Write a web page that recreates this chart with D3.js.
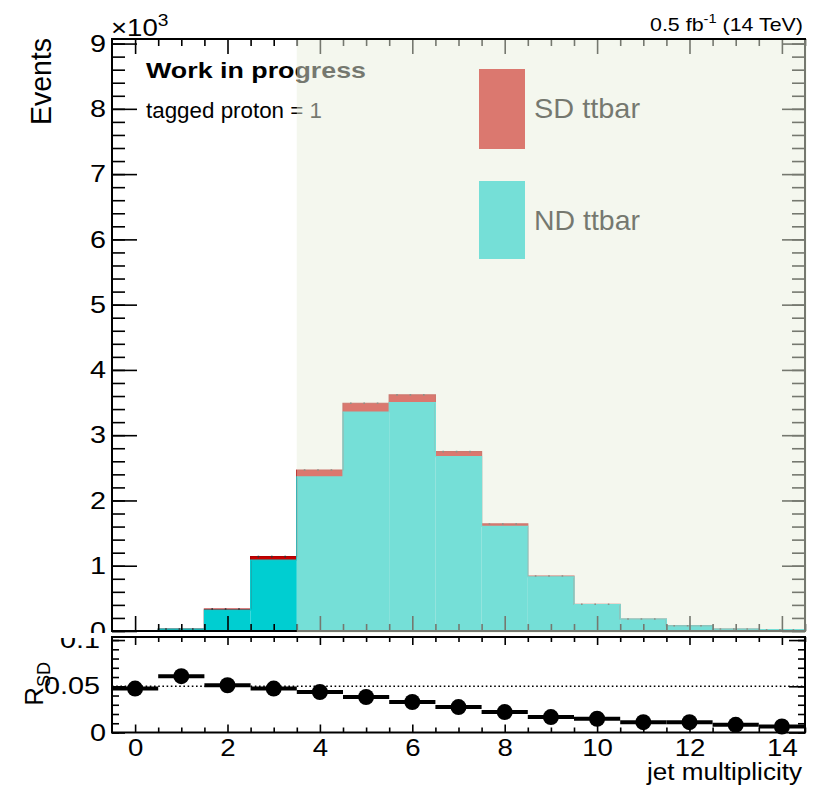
<!DOCTYPE html>
<html>
<head>
<meta charset="utf-8">
<script src="https://cdn.jsdelivr.net/npm/d3@7"></script>
<style>
  html, body { margin: 0; padding: 0; background: #fff; }
  svg text { font-family: "Liberation Sans", Arial, Helvetica, sans-serif; }
</style>
</head>
<body>
<svg id="chart" width="833" height="791"></svg>
<script>
// ---- data -------------------------------------------------------------
const jetBins   = [0, 1, 2, 3, 4, 5, 6, 7, 8, 9, 10, 11, 12, 13, 14];
const ndEvents  = [4, 29, 320, 1085, 2360, 3355, 3498, 2672, 1604, 829, 403, 182, 80, 30, 20];
const sdEvents  = [0.2, 1.9, 17, 54, 107, 134, 119, 76, 36, 14, 6, 2, 1, 0.3, 0.2];
const ratioSD   = [0.0475, 0.0609, 0.0511, 0.0475, 0.0438, 0.0384, 0.033, 0.0275,
                   0.0221, 0.0167, 0.0149, 0.0112, 0.0112, 0.0083, 0.0065];
const mainYTicks  = [0, 1, 2, 3, 4, 5, 6, 7, 8, 9];        // in units of 10^3
const ratioYTicks = [0, 0.05, 0.1];
const xLabelTicks = [0, 2, 4, 6, 8, 10, 12, 14];
const legendItems = ["SD ttbar", "ND ttbar"];

// ---- layout -----------------------------------------------------------
const svg = d3.select("#chart");
const L = 112, R = 805;
const mainTop = 39, mainBot = 631;
const ratTop = 637, ratBot = 732.5;
const lblScale = 1.2;   // tick labels are drawn a little wide

const ndColor = "rgb(0,206,209)";
const sdColor = "rgb(205,0,0)";

const x = d3.scaleLinear().domain([-0.5, 14.5]).range([L, R]);
const yMain = d3.scaleLinear().domain([0, 9070]).range([mainBot, mainTop]);
const yRat = d3.scaleLinear().domain([0, 0.1033]).range([ratBot, ratTop]);

const defs = svg.append("defs");
defs.append("clipPath").attr("id", "ratioClip")
  .append("rect").attr("x", 0).attr("y", 638).attr("width", 833).attr("height", 153);
defs.append("clipPath").attr("id", "mainClip")
  .append("rect").attr("x", 0).attr("y", 0).attr("width", 833).attr("height", 633);

// ---- upper pad: stacked histogram --------------------------------------
const main = svg.append("g");

const bins = main.append("g");
bins.selectAll("rect.nd").data(jetBins).join("rect").attr("class", "nd")
  .attr("x", d => x(d - 0.5)).attr("width", d => x(d + 0.5) - x(d - 0.5))
  .attr("y", (d, i) => yMain(ndEvents[i]))
  .attr("height", (d, i) => yMain(0) - yMain(ndEvents[i]))
  .attr("fill", ndColor);
bins.selectAll("rect.sd").data(jetBins).join("rect").attr("class", "sd")
  .attr("x", d => x(d - 0.5)).attr("width", d => x(d + 0.5) - x(d - 0.5))
  .attr("y", (d, i) => yMain(ndEvents[i] + sdEvents[i]))
  .attr("height", (d, i) => yMain(ndEvents[i]) - yMain(ndEvents[i] + sdEvents[i]))
  .attr("fill", sdColor);

// histogram outlines (step lines)
const stepPath = vals => {
  let p = `M${x(-0.5)},${yMain(0)}`;
  vals.forEach((v, i) => { p += `L${x(i - 0.5)},${yMain(v)}L${x(i + 0.5)},${yMain(v)}`; });
  return p + `L${x(14.5)},${yMain(0)}`;
};
const totals = ndEvents.map((v, i) => v + sdEvents[i]);
bins.append("path").attr("d", stepPath(totals)).attr("fill", "none")
  .attr("stroke", "#b00000").attr("stroke-width", 1.2);
bins.append("path").attr("d", stepPath(ndEvents)).attr("fill", "none")
  .attr("stroke", ndColor).attr("stroke-width", 1.2);
// small error markers along the top of the stack
bins.selectAll("line.err").data(jetBins).join("line").attr("class", "err")
  .attr("x1", d => x(d - 0.5) + 7).attr("x2", d => x(d + 0.5) - 4)
  .attr("y1", (d, i) => yMain(totals[i])).attr("y2", (d, i) => yMain(totals[i]))
  .attr("stroke", "#333").attr("stroke-width", 1.6)
  .attr("stroke-dasharray", "1.6,11.8");

// texts inside the frame
main.append("text").attr("x", 146).attr("y", 78)
  .attr("font-size", 22).attr("font-weight", "bold")
  .attr("textLength", 220).attr("lengthAdjust", "spacingAndGlyphs")
  .text("Work in progress");
main.append("text").attr("x", 146).attr("y", 118)
  .attr("font-size", 22)
  .attr("textLength", 176).attr("lengthAdjust", "spacingAndGlyphs")
  .text("tagged proton = 1");

// legend
const legend = main.append("g");
const legendColors = [sdColor, ndColor];
const legendBoxes = [[69, 149], [181, 259]];
const legendBase = [118, 230];
legendItems.forEach((name, i) => {
  legend.append("rect").attr("x", 479).attr("y", legendBoxes[i][0])
    .attr("width", 46).attr("height", legendBoxes[i][1] - legendBoxes[i][0])
    .attr("fill", legendColors[i]);
  legend.append("text").attr("x", 534).attr("y", legendBase[i])
    .attr("font-size", 28)
    .attr("textLength", 106).attr("lengthAdjust", "spacingAndGlyphs")
    .text(name);
});

// axes of the upper pad (ticks only, all pointing inward)
const tickG = main.append("g");
const styleTicks = g => { g.select(".domain").remove(); g.selectAll("line").attr("stroke", "#000").attr("stroke-width", 1.6); };
const minorMain = d3.range(0, 9070, 200);
const xMajor = d3.range(0, 15, 2);
const xMinor = d3.range(0, 14.6, 0.5).filter(v => v % 2 !== 0);

tickG.append("g").attr("transform", `translate(${L},0)`)
  .call(d3.axisLeft(yMain).tickValues(minorMain).tickSize(-13).tickFormat("")).call(styleTicks);
tickG.append("g").attr("transform", `translate(${L},0)`)
  .call(d3.axisLeft(yMain).tickValues(mainYTicks.map(v => v * 1000)).tickSize(-25).tickFormat("")).call(styleTicks);
tickG.append("g").attr("transform", `translate(${R},0)`)
  .call(d3.axisRight(yMain).tickValues(minorMain).tickSize(-13).tickFormat("")).call(styleTicks);
tickG.append("g").attr("transform", `translate(${R},0)`)
  .call(d3.axisRight(yMain).tickValues(mainYTicks.map(v => v * 1000)).tickSize(-23).tickFormat("")).call(styleTicks);
tickG.append("g").attr("transform", `translate(0,${mainBot})`)
  .call(d3.axisBottom(x).tickValues(xMinor).tickSize(-7).tickFormat("")).call(styleTicks);
tickG.append("g").attr("transform", `translate(0,${mainBot})`)
  .call(d3.axisBottom(x).tickValues(xMajor).tickSize(-15).tickFormat("")).call(styleTicks);
tickG.append("g").attr("transform", `translate(0,${mainTop})`)
  .call(d3.axisTop(x).tickValues(xMinor).tickSize(-7).tickFormat("")).call(styleTicks);
tickG.append("g").attr("transform", `translate(0,${mainTop})`)
  .call(d3.axisTop(x).tickValues(xMajor).tickSize(-15).tickFormat("")).call(styleTicks);

// frame
main.append("rect").attr("x", L).attr("y", mainTop).attr("width", R - L).attr("height", mainBot - mainTop)
  .attr("fill", "none").attr("stroke", "#000").attr("stroke-width", 2);

// translucent band over the region jet multiplicity > 3.5
main.append("rect")
  .attr("x", x(3.5)).attr("y", mainTop + 1)
  .attr("width", x(14.5) - x(3.5) + 1.5).attr("height", mainBot - mainTop + 1)
  .attr("fill", "rgb(234,240,222)").attr("fill-opacity", 0.5);
main.append("line").attr("x1", x(3.5)).attr("x2", R + 1).attr("y1", mainTop).attr("y2", mainTop)
  .attr("stroke", "#000").attr("stroke-width", 2);

// y labels of the upper pad
const yLab = main.append("g").attr("clip-path", "url(#mainClip)")
  .append("g").attr("transform", `translate(${L},0)`)
  .call(d3.axisLeft(yMain).tickValues(mainYTicks.map(v => v * 1000)).tickSize(0).tickPadding(6)
    .tickFormat(d => d3.format("d")(d / 1000)));
yLab.select(".domain").remove();
yLab.selectAll("text").attr("font-size", 24).attr("fill", "#000")
  .attr("font-family", "Liberation Sans, Arial, sans-serif")
  .attr("x", -6 / lblScale).attr("transform", `scale(${lblScale},1)`);

// exponent and axis title
const expo = main.append("text").attr("x", 0).attr("y", 0)
  .attr("transform", `translate(111,36) scale(1.2,1)`).attr("font-size", 23);
expo.append("tspan").text("\u00d710");
expo.append("tspan").attr("font-size", 16).attr("dy", -10).text("3");

main.append("text").attr("transform", "translate(51,38) rotate(-90)")
  .attr("text-anchor", "end").attr("font-size", 29)
  .attr("textLength", 87).attr("lengthAdjust", "spacingAndGlyphs")
  .text("Events");

// luminosity label
const lumi = svg.append("text").attr("x", 803).attr("y", 31).attr("text-anchor", "end")
  .attr("font-size", 19).attr("textLength", 153).attr("lengthAdjust", "spacingAndGlyphs");
lumi.append("tspan").text("0.5 fb");
lumi.append("tspan").attr("font-size", 13).attr("dy", -8).text("-1");
lumi.append("tspan").attr("dy", 8).text(" (14 TeV)");

// ---- lower pad: ratio ---------------------------------------------------
const rat = svg.append("g");
rat.append("rect").attr("x", 0).attr("y", 633).attr("width", 833).attr("height", 158).attr("fill", "#fff");

// reference line
rat.append("line").attr("x1", L).attr("x2", R).attr("y1", yRat(0.05)).attr("y2", yRat(0.05))
  .attr("stroke", "#000").attr("stroke-width", 1.5).attr("stroke-dasharray", "1.6,2.6");

const rTicks = rat.append("g");
const minorRat = d3.range(0, 0.1031, 0.01);
rTicks.append("g").attr("transform", `translate(${L},0)`)
  .call(d3.axisLeft(yRat).tickValues(minorRat).tickSize(-7).tickFormat("")).call(styleTicks);
rTicks.append("g").attr("transform", `translate(${L},0)`)
  .call(d3.axisLeft(yRat).tickValues(ratioYTicks).tickSize(-13).tickFormat("")).call(styleTicks);
rTicks.append("g").attr("transform", `translate(${R},0)`)
  .call(d3.axisRight(yRat).tickValues(minorRat).tickSize(-7).tickFormat("")).call(styleTicks);
rTicks.append("g").attr("transform", `translate(${R},0)`)
  .call(d3.axisRight(yRat).tickValues(ratioYTicks).tickSize(-16).tickFormat("")).call(styleTicks);
rTicks.append("g").attr("transform", `translate(0,${ratBot})`)
  .call(d3.axisBottom(x).tickValues(xMinor).tickSize(-5).tickFormat("")).call(styleTicks);
rTicks.append("g").attr("transform", `translate(0,${ratBot})`)
  .call(d3.axisBottom(x).tickValues(xMajor).tickSize(-8).tickFormat("")).call(styleTicks);
rTicks.append("g").attr("transform", `translate(0,${ratTop})`)
  .call(d3.axisTop(x).tickValues(xMinor).tickSize(-5).tickFormat("")).call(styleTicks);
rTicks.append("g").attr("transform", `translate(0,${ratTop})`)
  .call(d3.axisTop(x).tickValues(xMajor).tickSize(-8).tickFormat("")).call(styleTicks);

// ratio points with bin-width bars
rat.selectAll("line.xerr").data(jetBins).join("line").attr("class", "xerr")
  .attr("x1", d => x(d - 0.5)).attr("x2", d => x(d + 0.5))
  .attr("y1", (d, i) => yRat(ratioSD[i])).attr("y2", (d, i) => yRat(ratioSD[i]))
  .attr("stroke", "#000").attr("stroke-width", 4);
rat.selectAll("circle").data(jetBins).join("circle")
  .attr("cx", d => x(d)).attr("cy", (d, i) => yRat(ratioSD[i])).attr("r", 8)
  .attr("fill", "#000");

rat.append("rect").attr("x", L).attr("y", ratTop).attr("width", R - L).attr("height", ratBot - ratTop)
  .attr("fill", "none").attr("stroke", "#000").attr("stroke-width", 2);

// ratio y labels (the top one is cut by the pad edge)
const rLab = rat.append("g").attr("clip-path", "url(#ratioClip)")
  .append("g").attr("transform", `translate(${L},0)`)
  .call(d3.axisLeft(yRat).tickValues(ratioYTicks).tickSize(0).tickPadding(8)
    .tickFormat(d => d === 0 ? "0" : d3.format("")(d)));
rLab.select(".domain").remove();
rLab.selectAll("text").attr("font-size", 24).attr("fill", "#000")
  .attr("font-family", "Liberation Sans, Arial, sans-serif")
  .attr("x", d => (d === 0 ? -6 : -12) / lblScale).attr("transform", `scale(${lblScale},1)`);

// x labels
const xLab = rat.append("g").attr("transform", `translate(0,${ratBot})`)
  .call(d3.axisBottom(x).tickValues(xLabelTicks).tickSize(0).tickPadding(7).tickFormat(d3.format("d")));
xLab.select(".domain").remove();
xLab.selectAll("text").attr("font-size", 23).attr("fill", "#000")
  .attr("font-family", "Liberation Sans, Arial, sans-serif")
  .attr("transform", `scale(${lblScale},1)`)
  .attr("x", 0);

// axis titles
rat.append("text").attr("x", 802).attr("y", 780).attr("text-anchor", "end")
  .attr("font-size", 23).attr("textLength", 155).attr("lengthAdjust", "spacingAndGlyphs")
  .text("jet multiplicity");

const rTitle = rat.append("text").attr("transform", "translate(43,662) rotate(-90)")
  .attr("text-anchor", "end").attr("font-size", 26);
rTitle.append("tspan").text("R");
rTitle.append("tspan").attr("font-size", 18).attr("dy", 7).text("SD");
</script>
</body>
</html>
